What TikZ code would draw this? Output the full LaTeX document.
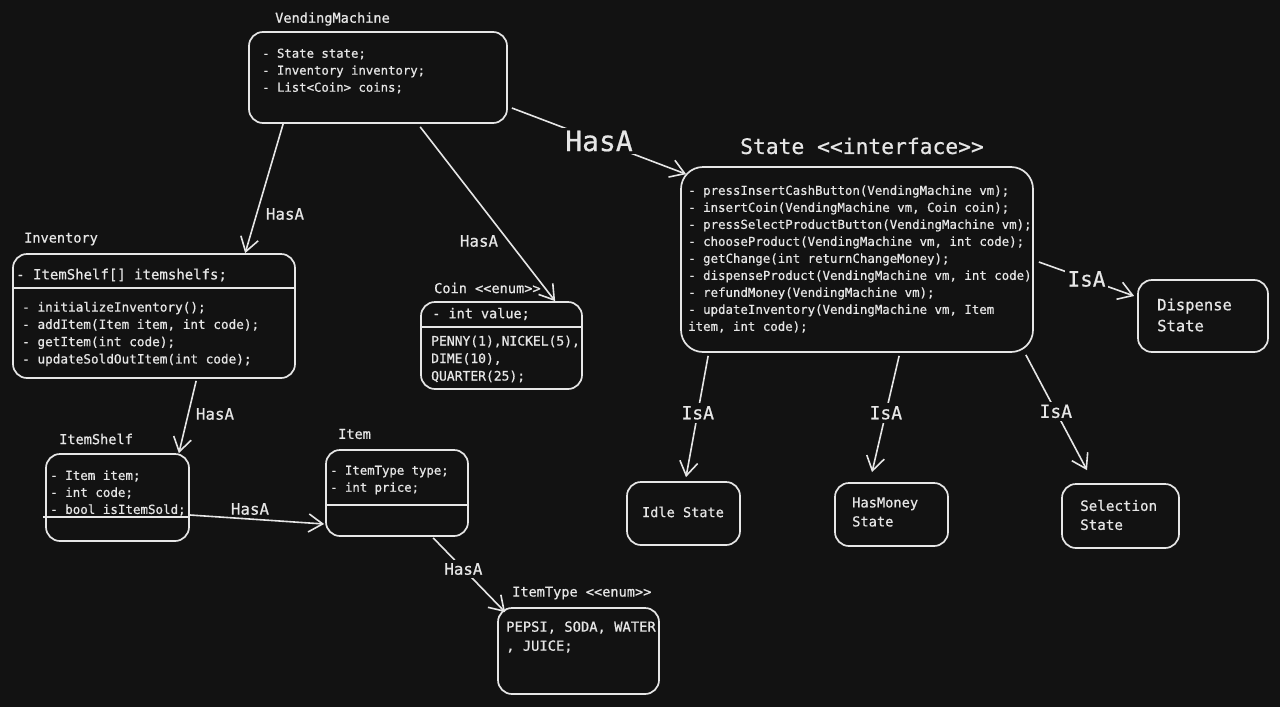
\documentclass[tikz,border=0pt]{standalone}
\usepackage{fontspec}
\newfontfamily\mono[FakeBold=0.7]{DejaVu Sans Mono}
\usetikzlibrary{arrows.meta}
\definecolor{bg}{HTML}{121212}
\definecolor{fg}{HTML}{E6E6E6}
\newcommand\myfs[2]{\fontsize{#1}{#2}\selectfont}
\tikzset{
  box/.style={draw=fg, line width=1.7pt, rounded corners=14pt, inner sep=0pt},
  txt/.style={text=fg, inner sep=0pt, anchor=west, align=left},
  conn/.style={draw=fg, line width=1.6pt, -{Straight Barb[length=14pt,width=18pt,line width=1.6pt]}},
  divider/.style={draw=fg, line width=1.7pt},
  onlbl/.style={fill=bg, text=fg, inner sep=3pt},
}
\begin{document}
\begin{tikzpicture}[x=1pt,y=-1pt]
\fill[bg] (0,0) rectangle (1280,707);
\useasboundingbox (0,0) rectangle (1280,707);

% ---- boxes
\node[box, minimum width=258pt, minimum height=91pt] (vm) at (378,77.5) {};
\node[box, minimum width=282pt, minimum height=124pt] (inv) at (154,316) {};
\node[box, minimum width=161pt, minimum height=87pt] (coin) at (501.5,345.5) {};
\node[box, minimum width=352pt, minimum height=185pt, rounded corners=22pt] (state) at (857,259.5) {};
\node[box, minimum width=130pt, minimum height=72pt] (disp) at (1203,316) {};
\node[box, minimum width=113pt, minimum height=63pt] (idle) at (683.5,513.5) {};
\node[box, minimum width=113pt, minimum height=63pt] (hasm) at (891.5,514.5) {};
\node[box, minimum width=117pt, minimum height=64pt] (sel) at (1120.5,516) {};
\node[box, minimum width=143pt, minimum height=87pt] (shelf) at (117.5,497.5) {};
\node[box, minimum width=142pt, minimum height=86pt] (item) at (397,493) {};
\node[box, minimum width=161pt, minimum height=86pt] (itype) at (578.5,651) {};

% ---- dividers
\coordinate (d1) at (0,288);
\coordinate (d2) at (0,327);
\coordinate (d3) at (0,517);
\coordinate (d4) at (0,505);
\draw[divider] (inv.west |- d1) -- (inv.east |- d1);
\draw[divider] (coin.west |- d2) -- (coin.east |- d2);
\draw[divider] ([xshift=-2pt]shelf.west |- d3) -- (shelf.east |- d3);
\draw[divider] (item.west |- d4) -- (item.east |- d4);

% ---- titles
\node[txt, font={\mono\myfs{13.6}{16}}] (tvm) at (275,19) {VendingMachine};
\node[txt, font={\mono\myfs{13.6}{16}}] (tinv) at (24,239) {Inventory};
\node[txt, font={\mono\myfs{13.6}{16}}] (tcoin) at (434,288) {Coin <<enum>>};
\node[text=fg, inner sep=0pt, font={\mono\myfs{21.3}{24}}] (tstate) at (862,146) {State <<interface>>};
\node[txt, font={\mono\myfs{13.6}{16}}] (tshelf) at (59,439) {ItemShelf};
\node[txt, font={\mono\myfs{13.6}{16}}] (titem) at (338,434) {Item};
\node[txt, font={\mono\myfs{13.6}{16}}] (titype) at (512,593) {ItemType <<enum>>};

% ---- contents
\node[txt, font={\mono\myfs{12.3}{17}}] (cvm) at (262,71) {- State state;\\- Inventory inventory;\\- List<Coin> coins;};
\node[txt, font={\mono\myfs{14}{17}}] (cinv1) at (16,275) {- ItemShelf[] itemshelfs;};
\node[txt, font={\mono\myfs{12.7}{17.3}}] (cinv2) at (22,334) {- initializeInventory();\\- addItem(Item item, int code);\\- getItem(int code);\\- updateSoldOutItem(int code);};
\node[txt, font={\mono\myfs{13.5}{17}}] (ccoin1) at (432,314) {- int value;};
\node[txt, font={\mono\myfs{13}{17.5}}] (ccoin2) at (431,359) {PENNY(1),NICKEL(5),\\DIME(10),\\QUARTER(25);};
\node[txt, font={\mono\myfs{12.4}{17}}] (cstate) at (688,259) {- pressInsertCashButton(VendingMachine vm);\\- insertCoin(VendingMachine vm, Coin coin);\\- pressSelectProductButton(VendingMachine vm);\\- chooseProduct(VendingMachine vm, int code);\\- getChange(int returnChangeMoney);\\- dispenseProduct(VendingMachine vm, int code)\\- refundMoney(VendingMachine vm);\\- updateInventory(VendingMachine vm, Item\\item, int code);};
\node[txt, font={\mono\myfs{15.5}{21}}] (cdisp) at (1157,315) {Dispense\\State};
\node[text=fg, inner sep=0pt, font={\mono\myfs{13.6}{16}}] (cidle) at (683,512) {Idle State};
\node[txt, font={\mono\myfs{13.7}{19}}] (chasm) at (852,512) {HasMoney\\State};
\node[txt, font={\mono\myfs{14.2}{19}}] (csel) at (1080,515) {Selection\\State};
\node[txt, font={\mono\myfs{12.5}{17}}] (cshelf) at (50,493) {- Item item;\\- int code;\\- bool isItemSold;};
\node[txt, font={\mono\myfs{12.3}{17}}] (citem) at (330,480) {- ItemType type;\\- int price;};
\node[txt, font={\mono\myfs{13.8}{19}}] (citype) at (506,637) {PEPSI, SODA, WATER\\, JUICE;};

% ---- connectors
\draw[conn] ([xshift=35pt]vm.south west) -- ([xshift=233pt]inv.north west);
\node[text=fg, inner sep=0pt, font={\mono\myfs{15.8}{18}}] (l1) at (285,214) {HasA};

\draw[conn] ([xshift=172pt,yshift=-3pt]vm.south west) -- ([xshift=135pt]coin.north west);
\node[text=fg, inner sep=0pt, font={\mono\myfs{15.8}{18}}] (l2) at (479,241) {HasA};

\draw[conn] ([xshift=4pt,yshift=-30.5pt]vm.east) -- node[onlbl, pos=0.5, font={\mono\myfs{28}{30}}] (l3) {HasA} ([xshift=6pt,yshift=-8pt]state.north west);

\draw[conn] ([xshift=5pt,yshift=-2.5pt]state.east) -- node[onlbl, pos=0.5, font={\mono\myfs{21}{24}}] (l4) {IsA} ([xshift=-3pt,yshift=20pt]disp.west);

\draw[conn] ([xshift=28pt,yshift=-3pt]state.south west) -- node[onlbl, pos=0.47, font={\mono\myfs{18}{20}}] (l5) {IsA} ([xshift=2.5pt,yshift=4pt]idle.north);

\draw[conn] ([xshift=219pt,yshift=-3pt]state.south west) -- node[onlbl, pos=0.49, font={\mono\myfs{18}{20}}] (l6) {IsA} ([xshift=-19.5pt,yshift=10pt]hasm.north);

\draw[conn] ([xshift=-8pt,yshift=-2pt]state.south east) -- node[onlbl, pos=0.49, font={\mono\myfs{18}{20}}] (l7) {IsA} ([xshift=-33.5pt,yshift=13pt]sel.north);

\draw[conn] ([xshift=184pt,yshift=-2pt]inv.south west) -- ([xshift=-11pt]shelf.north east);
\node[text=fg, inner sep=0pt, font={\mono\myfs{15.8}{18}}] (l8) at (215,414) {HasA};

\draw[conn] ([yshift=-17.5pt]shelf.east) -- ([xshift=-1pt,yshift=-31pt]item.west);
\node[text=fg, inner sep=0pt, font={\mono\myfs{15.8}{18}}] (l9) at (250,509) {HasA};

\draw[conn] ([xshift=108pt,yshift=-1pt]item.south west) -- node[onlbl, pos=0.42, font={\mono\myfs{15.8}{18}}] (l10) {HasA} ([xshift=8pt,yshift=-5pt]itype.north west);
\end{tikzpicture}
\end{document}
